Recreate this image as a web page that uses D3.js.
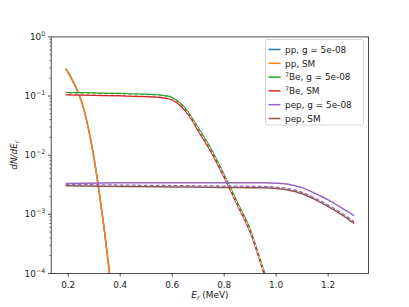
<!DOCTYPE html>
<html>
<head>
<meta charset="utf-8">
<script src="https://cdn.jsdelivr.net/npm/d3@7"></script>
<style>
  body { margin: 0; background: #fff; }
  svg { display: block; font-family: "DejaVu Sans", sans-serif; }
</style>
</head>
<body>
<svg id="chart" width="409" height="307"></svg>
<script>
// energies (MeV)
var ppE = [0.19, 0.20, 0.22, 0.24, 0.26, 0.28, 0.30, 0.32, 0.34, 0.36];
var ppG = [0.29, 0.25, 0.17, 0.11, 0.06, 0.025, 0.0085, 0.0022, 0.0005, 0.00009];
var ppSM = [0.29, 0.25, 0.17, 0.11, 0.06, 0.025, 0.0085, 0.0022, 0.0005, 0.00009];

var beE = [0.19, 0.3, 0.4, 0.5, 0.55, 0.58, 0.6, 0.62, 0.65, 0.68, 0.7, 0.75, 0.8, 0.85, 0.9, 0.95, 0.97];
var beG = [0.114, 0.112, 0.110, 0.107, 0.104, 0.100, 0.094, 0.083, 0.062, 0.040, 0.029, 0.0125, 0.0046, 0.0016, 0.00055, 0.00012, 0.00007];
var beSM = [0.105, 0.103, 0.101, 0.098, 0.095, 0.091, 0.086, 0.076, 0.057, 0.037, 0.026, 0.0113, 0.0042, 0.00145, 0.0005, 0.00011, 0.00006];
var beMid = [0.1095, 0.1075, 0.1055, 0.1025, 0.0995, 0.0955, 0.090, 0.0795, 0.0595, 0.0385, 0.0275, 0.0119, 0.0044, 0.00152, 0.00052, 0.000115, 0.000065];

var pepE = [0.19, 0.4, 0.6, 0.8, 0.95, 1.0, 1.05, 1.1, 1.15, 1.2, 1.25, 1.3];
var pepG = [0.0033, 0.0034, 0.00342, 0.00343, 0.0034, 0.00335, 0.0032, 0.00282, 0.00225, 0.00175, 0.0013, 0.00095];
var pepSM = [0.00305, 0.00295, 0.0029, 0.00285, 0.0028, 0.00272, 0.00255, 0.00222, 0.00177, 0.00135, 0.001, 0.0007];
var pepMid = [0.00322, 0.00312, 0.00306, 0.003, 0.00295, 0.00287, 0.0027, 0.00235, 0.00187, 0.00143, 0.00106, 0.00075];

var xTicks = [0.2, 0.4, 0.6, 0.8, 1.0, 1.2];
var yTicks = [0, -1, -2, -3, -4];

var svg = d3.select("#chart");
var mLeft = 51.2, mRight = 368.6, mTop = 36.9, mBottom = 273.4;

var x = d3.scaleLinear().domain([0.1345, 1.3555]).range([mLeft, mRight]);
var y = d3.scaleLog().domain([1e-4, 1]).range([mBottom, mTop]);

svg.append("defs").append("clipPath").attr("id", "clip")
  .append("rect").attr("x", mLeft).attr("y", mTop).attr("width", mRight - mLeft).attr("height", mBottom - mTop);

var plot = svg.append("g").attr("clip-path", "url(#clip)");

function drawLine(es, vs, color, width, dash) {
  var pts = es.map(function(e, i) { return [e, vs[i]]; });
  var line = d3.line()
    .x(function(d) { return x(d[0]); })
    .y(function(d) { return y(d[1]); })
    .curve(d3.curveMonotoneX);
  var p = plot.append("path").datum(pts)
    .attr("d", line)
    .attr("fill", "none")
    .attr("stroke", color)
    .attr("stroke-width", width)
    .attr("stroke-linejoin", "round");
  if (dash) p.attr("stroke-dasharray", dash);
}

var series = [
  { label: "pp, g = 5e-08", e: ppE, v: ppG, color: "#1f77b4" },
  { label: "pp, SM", e: ppE, v: ppSM, color: "#ff7f0e" },
  { label: "Be, g = 5e-08", sup: "7", e: beE, v: beG, color: "#2ca02c" },
  { label: "Be, SM", sup: "7", e: beE, v: beSM, color: "#d62728" },
  { label: "pep, g = 5e-08", e: pepE, v: pepG, color: "#9467bd" },
  { label: "pep, SM", e: pepE, v: pepSM, color: "#8c564b" }
];

series.forEach(function(s) { drawLine(s.e, s.v, s.color, 1.5); });
drawLine(beE, beMid, "#ffffff", 1, "3,3");
drawLine(pepE, pepMid, "#9467bd", 1.3, "4,2");

// axes frame
svg.append("rect").attr("x", mLeft).attr("y", mTop).attr("width", mRight - mLeft).attr("height", mBottom - mTop)
  .attr("fill", "none").attr("stroke", "#222").attr("stroke-width", 0.8);

// x ticks
var xa = svg.append("g");
xTicks.forEach(function(t) {
  xa.append("line").attr("x1", x(t)).attr("x2", x(t)).attr("y1", mBottom).attr("y2", mBottom + 3.1)
    .attr("stroke", "#222").attr("stroke-width", 0.8);
  xa.append("text").attr("x", x(t)).attr("y", mBottom + 14.5).attr("text-anchor", "middle")
    .attr("font-size", "8.9px").attr("fill", "#222").text(t.toFixed(1));
});

// y ticks (log)
var ya = svg.append("g");
yTicks.forEach(function(p) {
  var yy = y(Math.pow(10, p));
  ya.append("line").attr("x1", mLeft - 3.1).attr("x2", mLeft).attr("y1", yy).attr("y2", yy)
    .attr("stroke", "#222").attr("stroke-width", 0.8);
  var t = ya.append("text").attr("x", mLeft - 6).attr("y", yy + 3.2).attr("text-anchor", "end")
    .attr("font-size", "8.9px").attr("fill", "#222");
  t.append("tspan").text("10");
  t.append("tspan").attr("dy", -4).attr("font-size", "6.3px").text(p === 0 ? "0" : "\u2212" + (-p));
});
for (var d = -4; d < 0; d++) {
  for (var m = 2; m <= 9; m++) {
    var ym = y(m * Math.pow(10, d));
    ya.append("line").attr("x1", mLeft - 1.8).attr("x2", mLeft).attr("y1", ym).attr("y2", ym)
      .attr("stroke", "#222").attr("stroke-width", 0.6);
  }
}

// axis labels
var xl = svg.append("text").attr("x", (mLeft + mRight) / 2).attr("y", 298).attr("text-anchor", "middle")
  .attr("font-size", "8.9px").attr("fill", "#222");
xl.append("tspan").attr("font-style", "italic").text("E");
xl.append("tspan").attr("font-style", "italic").attr("font-size", "6.3px").attr("dy", 2).text("r");
xl.append("tspan").attr("dy", -2).text(" (MeV)");

var yl = svg.append("text").attr("transform", "translate(17," + ((mTop + mBottom) / 2) + ") rotate(-90)")
  .attr("text-anchor", "middle").attr("font-size", "8.9px").attr("fill", "#222");
yl.append("tspan").attr("font-style", "italic").text("dN/dE");
yl.append("tspan").attr("font-style", "italic").attr("font-size", "6.3px").attr("dy", 2).text("r");

// legend
var lg = svg.append("g");
lg.append("rect").attr("x", 265.5).attr("y", 39.5).attr("width", 98).attr("height", 85.5)
  .attr("rx", 2).attr("fill", "#fff").attr("fill-opacity", 0.8).attr("stroke", "#ccc").attr("stroke-width", 0.8);
series.forEach(function(s, i) {
  var yy = 49.5 + i * 13.8;
  lg.append("line").attr("x1", 268.5).attr("x2", 280.5).attr("y1", yy).attr("y2", yy)
    .attr("stroke", s.color).attr("stroke-width", 1.5);
  var t = lg.append("text").attr("x", 285).attr("y", yy + 3.2).attr("font-size", "8.9px").attr("fill", "#222");
  if (s.sup) {
    t.append("tspan").attr("font-size", "6.3px").attr("dy", -3.5).text(s.sup);
    t.append("tspan").attr("dy", 3.5).text(s.label);
  } else {
    t.text(s.label);
  }
});
</script>
</body>
</html>
